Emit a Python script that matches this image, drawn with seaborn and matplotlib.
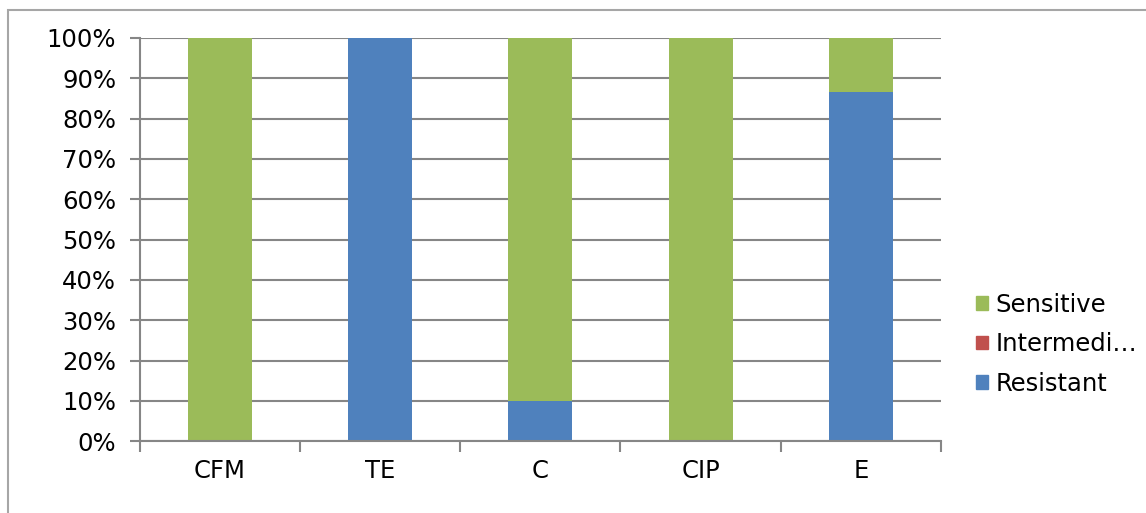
import numpy as np
import pandas as pd
import matplotlib
matplotlib.use("Agg")
import matplotlib.pyplot as plt
import seaborn as sns
from matplotlib.patches import Patch, Rectangle

# =========================
# DATA
# =========================

drugs = ["CFM", "TE", "C", "CIP", "E"]
resistant = [0.0, 100.0, 10.0, 0.0, 86.7]
intermediate = [0.0, 0.0, 0.0, 0.0, 0.0]
sensitive = [100.0, 0.0, 90.0, 100.0, 13.3]

colors = {"Resistant": "#4F81BD", "Intermediate": "#C0504D", "Sensitive": "#9BBB59"}

df = pd.DataFrame({
    "drug": drugs,
    "Resistant": resistant,
    "Intermediate": intermediate,
    "Sensitive": sensitive,
})

# =========================
# PLOT
# =========================

sns.set_style("white")
plt.rcParams["font.family"] = ["DejaVu Sans"]
plt.rcParams["text.color"] = "black"
plt.rcParams["xtick.color"] = "black"
plt.rcParams["ytick.color"] = "black"
FS = 17.5

fig = plt.figure(figsize=(11.46, 5.13), dpi=100)
ax = fig.add_axes([0.122, 0.140, 0.699, 0.786])

bottom = np.zeros(len(drugs))
for name in ["Resistant", "Intermediate", "Sensitive"]:
    sns.barplot(
        data=df, x="drug", y=name, order=drugs,
        color=colors[name], width=0.4, bottom=bottom,
        saturation=1, linewidth=0, ax=ax,
    )
    bottom = bottom + df[name].values

ax.set_ylim(0, 100)
ax.set_xlim(-0.5, len(drugs) - 0.5)
ax.set_yticks(range(0, 101, 10))
ax.set_yticklabels([f"{v}%" for v in range(0, 101, 10)], fontsize=FS)
ax.tick_params(axis="x", labelsize=FS, length=0, pad=13)
ax.tick_params(axis="y", length=7, width=1.5, color="#868686", pad=10, left=True)
ax.set_xlabel("")
ax.set_ylabel("")

ax.yaxis.grid(True, color="#868686", linewidth=1.5)
ax.set_axisbelow(True)

for s in ["top", "right"]:
    ax.spines[s].set_visible(False)
for s in ["left", "bottom"]:
    ax.spines[s].set_color("#868686")
    ax.spines[s].set_linewidth(1.5)

# category separator ticks on x-axis
ax.set_xticks(np.arange(-0.5, len(drugs), 1.0), minor=True)
ax.tick_params(axis="x", which="minor", length=8, width=1.5, color="#868686", bottom=True)

handles = [Patch(color=colors["Sensitive"], label="Sensitive"),
           Patch(color=colors["Intermediate"], label="Intermedi\u2026"),
           Patch(color=colors["Resistant"], label="Resistant")]
fig.legend(handles=handles, loc="center left", bbox_to_anchor=(0.833, 0.329),
           frameon=False, fontsize=FS, handlelength=0.47, handleheight=0.47,
           handletextpad=0.3, labelspacing=0.64)

fig.patches.append(Rectangle((0.007, -0.05), 1.2, 1.03, transform=fig.transFigure,
                             fill=False, edgecolor="#A6A6A6", linewidth=1.5))

fig.savefig("out.png", dpi=100)
